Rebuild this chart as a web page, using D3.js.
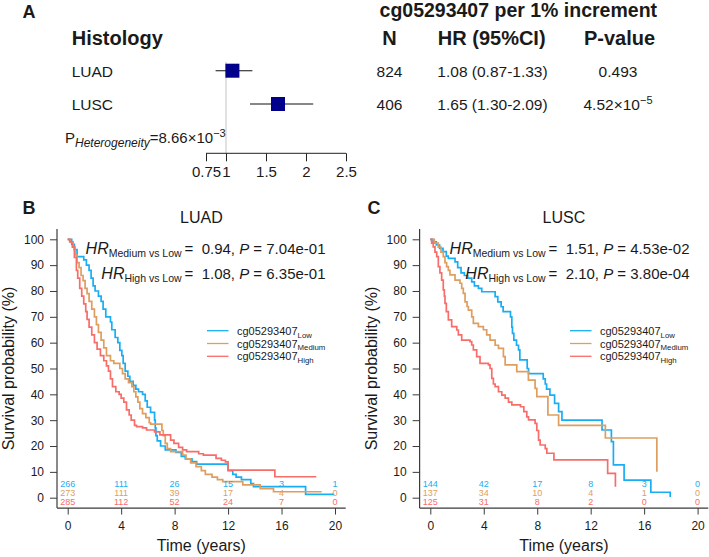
<!DOCTYPE html>
<html><head><meta charset="utf-8">
<script src="https://cdn.jsdelivr.net/npm/d3@7"></script>
<style>
html,body{margin:0;padding:0;background:#fff;}
svg{display:block;font-family:"Liberation Sans",Arial,sans-serif;}
text{white-space:pre;}
</style></head><body>
<svg id="chart" width="709" height="557"></svg>
<script>
// ---------- Panel A: forest plot data ----------
const forestGroups = ["LUAD", "LUSC"];
const forestN = [824, 406];
const forestHR = [1.08, 1.65];
const forestLo = [0.87, 1.30];
const forestHi = [1.33, 2.09];
const forestHRText = ["1.08 (0.87-1.33)", "1.65 (1.30-2.09)"];
const forestPMant = ["0.493", "4.52×10"];
const forestPExp = ["", "−5"];
const forestTicks = [0.75, 1, 1.5, 2, 2.5];
const forestTickLabels = ["0.75", "1", "1.5", "2", "2.5"];
const pHetMant = "=8.66×10";
const pHetExp = "−3";

// ---------- Panels B/C: Kaplan-Meier data [time (years), survival %] ----------
const groupNames = ["Low", "Medium", "High"];
const groupColors = ["#19AEF3", "#DE9E60", "#F76D6A"];

const luadLow = [[0,100],[0.3,98],[0.5,96],[0.7,93.3],[1.2,92],[1.4,90],[1.6,88],[1.75,85],[1.9,82],[2.05,80],[2.3,78],[2.5,76],[2.65,73],[2.85,70],[3.2,68],[3.3,65],[3.55,62],[3.75,60],[3.9,57],[4.05,55],[4.15,52],[4.3,49],[4.5,47],[4.65,45],[4.9,43.5],[5.1,42],[5.3,41],[5.6,40],[5.8,37.5],[5.95,35],[6.2,33],[6.5,30],[6.55,27],[6.6,24],[6.7,22],[6.95,20],[7.3,18.5],[8.1,17.5],[8.5,16],[8.8,15],[9.3,14],[9.65,13],[12.0,10.5],[12.35,9],[12.6,8],[13.0,7],[13.7,5.5],[13.9,4.3],[17.8,1.3],[19.95,1.3]];
const luadMedium = [[0,100],[0.2,99],[0.4,97],[0.55,94],[0.7,91],[0.85,89],[1.0,86],[1.15,84],[1.3,81],[1.45,79],[1.6,76],[1.8,73],[2.0,70],[2.15,67],[2.3,64],[2.5,61],[2.7,58],[2.9,55],[3.2,53],[3.45,52],[3.9,50],[4.1,48],[4.3,46],[4.55,44.5],[4.8,43],[4.95,41],[5.1,39],[5.25,37],[5.4,34.5],[5.6,32.5],[5.85,31],[6.1,29],[6.2,28.5],[7.05,26],[7.15,24],[7.3,21],[7.45,19],[7.7,17.8],[8.6,16.5],[8.85,15],[9.2,13.5],[9.6,12],[10.0,10.5],[10.3,9],[10.8,8],[11.2,7],[11.6,6.2],[13.1,5],[14.4,3.5],[15.4,2.3],[19.0,2.3]];
const luadHigh = [[0,100],[0.15,99],[0.35,97],[0.5,93],[0.65,88],[0.75,85],[0.9,81],[1.05,78],[1.2,75],[1.35,72],[1.45,69],[1.6,66],[1.8,63],[2.0,60],[2.2,57.5],[2.45,55],[2.7,53],[2.9,51],[3.05,49],[3.2,46],[3.35,43],[3.6,41],[3.85,40],[4.0,38.5],[4.2,37],[4.4,34],[4.6,32],[4.75,30],[5.0,28],[5.15,27.5],[5.6,27],[5.9,26.2],[6.5,25.5],[6.9,24.3],[7.7,22.3],[7.95,21],[8.3,19.5],[8.6,18.5],[8.9,17.8],[9.8,17],[10.15,16.5],[11.1,15.2],[11.5,14.5],[11.8,13.9],[12.0,10.7],[15.5,8.1],[18.6,8.1]];

const luscLow = [[0,100],[0.2,99],[0.45,97.8],[0.7,96.5],[0.95,95.2],[1.2,93.5],[1.35,92.6],[1.85,91.3],[2.05,89],[2.3,87],[2.55,86],[2.8,85],[3.1,83.5],[3.3,82],[3.6,81],[3.85,79.7],[4.85,77.8],[5.05,75.8],[5.3,73.9],[5.45,72],[6.0,70],[6.1,66],[6.15,63.6],[6.25,61],[6.45,59],[6.6,57.2],[6.7,53.3],[7.25,50],[7.35,48],[8.45,46],[8.6,44],[8.7,42],[8.95,39.7],[9.3,36.5],[9.6,33.3],[9.85,30],[12.85,26.2],[13.55,21.7],[13.7,12.7],[14.5,6.8],[16.5,2.1],[17.95,0.3]];
const luscMedium = [[0,100],[0.3,98.5],[0.6,97],[0.8,95],[0.97,93.3],[1.1,91],[1.22,89.4],[1.35,88],[1.47,86.2],[1.85,84.2],[2.22,83],[2.35,81],[2.47,79.1],[2.6,75.8],[2.75,74],[2.85,72.6],[3.1,70],[3.22,67.5],[3.6,66.2],[3.97,65],[4.22,63],[4.47,61],[4.85,59],[5.1,57.8],[5.47,54.6],[5.6,51.4],[6.47,48.8],[7.34,45.5],[7.84,42.3],[7.97,39.1],[8.8,32],[9.6,28],[13.1,23.1],[16.95,10]];
const luscHigh = [[0,100],[0.1,98.5],[0.22,97.1],[0.35,95],[0.48,93.3],[0.6,89.4],[0.72,87],[0.85,84.2],[0.97,80.4],[1.05,78],[1.1,75.2],[1.2,72],[1.35,68.8],[1.6,66.2],[1.98,64.9],[2.1,63],[2.35,61],[2.97,60.4],[3.1,59.1],[3.22,57.2],[3.47,54.6],[3.72,52],[4.35,51.4],[4.47,50],[4.6,46.2],[4.72,44],[4.85,43],[5.1,41],[5.35,39.7],[5.6,38.5],[5.85,37],[6.1,35.9],[6.75,35.2],[7.0,33.3],[7.22,31.3],[7.35,30.1],[7.84,28.8],[7.97,26],[8.1,22.3],[8.22,20.4],[8.6,19],[8.72,17.2],[9.25,14.6],[13.27,9.4],[13.85,4.2]];

const riskTimes = [0, 4, 8, 12, 16, 20];
const luadRiskLow = [266, 111, 26, 15, 3, 1];
const luadRiskMedium = [273, 111, 39, 17, 4, 0];
const luadRiskHigh = [285, 112, 52, 24, 7, 0];
const luscRiskLow = [144, 42, 17, 8, 3, 0];
const luscRiskMedium = [137, 34, 10, 4, 1, 0];
const luscRiskHigh = [125, 31, 8, 2, 0, 0];

const yTicks = [0, 10, 20, 30, 40, 50, 60, 70, 80, 90, 100];
const xTicks = [0, 4, 8, 12, 16, 20];

const luadHRMed = "0.94", luadPMed = "7.04e-01", luadHRHigh = "1.08", luadPHigh = "6.35e-01";
const luscHRMed = "1.51", luscPMed = "4.53e-02", luscHRHigh = "2.10", luscPHigh = "3.80e-04";
const probeName = "cg05293407";

// ---------- drawing ----------
const svg = d3.select("#chart");
const TXT = "#1a1a1a", AX = "#3a3a3a";

// Panel letters
[["A", 22.5, 17.5], ["B", 22.5, 213.5], ["C", 367.5, 213.5]].forEach(([t, x, y]) =>
  svg.append("text").attr("x", x).attr("y", y).attr("font-size", 18).attr("font-weight", "bold").attr("fill", TXT).text(t));

// ---- Panel A ----
const fx = d3.scaleLinear().domain([1, 2]).range([226, 306]);
const rowY = d3.scalePoint().domain(forestGroups).range([70.7, 104]);

svg.append("text").attr("x", 518.3).attr("y", 16.5).attr("text-anchor", "middle")
  .attr("font-size", 19.5).attr("font-weight", "bold").attr("fill", TXT).text(probeName + " per 1% increment");
svg.append("text").attr("x", 71.7).attr("y", 45).attr("font-size", 20).attr("font-weight", "bold").attr("fill", TXT).text("Histology");
[["N", 389.5], ["HR (95%CI)", 491.7], ["P-value", 619.5]].forEach(([t, x]) =>
  svg.append("text").attr("x", x).attr("y", 45).attr("text-anchor", "middle").attr("font-size", 20).attr("font-weight", "bold").attr("fill", TXT).text(t));

// reference line at HR = 1
svg.append("line").attr("x1", fx(1)).attr("x2", fx(1)).attr("y1", 62).attr("y2", 153.3).attr("stroke", "#c4c4c4").attr("stroke-width", 1);

forestGroups.forEach((g, i) => {
  const cy = rowY(g);
  svg.append("text").attr("x", 71.7).attr("y", cy + 6).attr("font-size", 15.5).attr("fill", TXT).text(g);
  svg.append("line").attr("x1", fx(forestLo[i])).attr("x2", fx(forestHi[i])).attr("y1", cy).attr("y2", cy).attr("stroke", "#111").attr("stroke-width", 1.1);
  svg.append("rect").attr("x", fx(forestHR[i]) - 7).attr("y", cy - 7).attr("width", 14).attr("height", 14).attr("fill", "#00008B");
  svg.append("text").attr("x", 389.5).attr("y", cy + 6).attr("text-anchor", "middle").attr("font-size", 15.5).attr("fill", TXT).text(forestN[i]);
  svg.append("text").attr("x", 492.5).attr("y", cy + 6).attr("text-anchor", "middle").attr("font-size", 15.5).attr("fill", TXT).text(forestHRText[i]);
  const pt = svg.append("text").attr("x", 618).attr("y", cy + 6).attr("text-anchor", "middle").attr("font-size", 15.5).attr("fill", TXT);
  pt.append("tspan").text(forestPMant[i]);
  if (forestPExp[i]) pt.append("tspan").attr("font-size", 11).attr("dy", -6).text(forestPExp[i]);
});

// P heterogeneity
const ph = svg.append("text").attr("x", 65).attr("y", 142.7).attr("font-size", 15).attr("fill", TXT);
ph.append("tspan").text("P");
ph.append("tspan").attr("font-size", 12).attr("font-style", "italic").attr("dy", 4).text("Heterogeneity");
ph.append("tspan").attr("dy", -4).text(pHetMant);
ph.append("tspan").attr("font-size", 11).attr("dy", -6).text(pHetExp);

// forest axis
const fAxis = svg.append("g").attr("transform", "translate(0,153.3)")
  .call(d3.axisBottom(fx).tickValues(forestTicks).tickFormat((d, i) => forestTickLabels[i]).tickSize(8).tickPadding(5).tickSizeOuter(0));
fAxis.select(".domain").remove();
fAxis.append("line").attr("x1", fx(0.75)).attr("x2", fx(2.5)).attr("stroke", "#222");
fAxis.selectAll(".tick line").attr("stroke", "#222");
fAxis.selectAll(".tick text").attr("font-size", 15).attr("fill", TXT).attr("font-family", "Liberation Sans, Arial, sans-serif");

// ---- KM panels ----
function drawKM(opt) {
  const x = d3.scaleLinear().domain([0, 20]).range([opt.x0, opt.x0 + 267.3]);
  const y = d3.scaleLinear().domain([0, 100]).range([497.7, 239.3]);
  const g = svg.append("g");
  const axL = x(-0.8), axB = y(-4);

  // axes (L-shaped box)
  const yAx = g.append("g").attr("transform", `translate(${axL},0)`)
    .call(d3.axisLeft(y).tickValues(yTicks).tickSize(7).tickPadding(6));
  const xAx = g.append("g").attr("transform", `translate(0,${axB})`)
    .call(d3.axisBottom(x).tickValues(xTicks).tickSize(6.5).tickPadding(7));
  [yAx, xAx].forEach(a => {
    a.select(".domain").remove();
    a.selectAll(".tick line").attr("stroke", AX);
    a.selectAll(".tick text").attr("font-size", 12).attr("fill", TXT).attr("font-family", "Liberation Sans, Arial, sans-serif");
  });
  g.append("line").attr("x1", axL).attr("x2", axL).attr("y1", y(104)).attr("y2", axB).attr("stroke", AX).attr("stroke-width", 1.2);
  g.append("line").attr("x1", axL).attr("x2", x(20.8)).attr("y1", axB).attr("y2", axB).attr("stroke", AX).attr("stroke-width", 1.2);

  // labels
  g.append("text").attr("x", x(10)).attr("y", 223.3).attr("text-anchor", "middle").attr("font-size", 16).attr("fill", TXT).text(opt.title);
  g.append("text").attr("x", x(10)).attr("y", 551).attr("text-anchor", "middle").attr("font-size", 16).attr("fill", TXT).text("Time (years)");
  g.append("text").attr("transform", `translate(${opt.ylabX},${y(50)}) rotate(-90)`).attr("text-anchor", "middle")
    .attr("font-size", 16).attr("fill", TXT).text("Survival probability (%)");

  // curves
  const line = d3.line().x(d => x(d[0])).y(d => y(d[1])).curve(d3.curveStepAfter);
  opt.curves.forEach((c, i) => {
    g.append("path").attr("d", line(c)).attr("fill", "none").attr("stroke", groupColors[i]).attr("stroke-width", 1.7);
  });

  // numbers at risk
  const riskY = [487.3, 496.3, 505.3];
  opt.risk.forEach((r, i) => {
    r.forEach((n, j) => {
      g.append("text").attr("x", x(riskTimes[j])).attr("y", riskY[i]).attr("text-anchor", "middle")
        .attr("font-size", 9).attr("fill", groupColors[i]).text(n);
    });
  });

  // legend
  const legY = [330.7, 343.5, 356.3];
  groupNames.forEach((nm, i) => {
    g.append("line").attr("x1", opt.legX).attr("x2", opt.legX + 21.5).attr("y1", legY[i]).attr("y2", legY[i])
      .attr("stroke", groupColors[i]).attr("stroke-width", 1.3);
    const t = g.append("text").attr("x", opt.legX + 30).attr("y", legY[i] + 4).attr("font-size", 11).attr("fill", TXT);
    t.append("tspan").text(probeName);
    t.append("tspan").attr("font-size", 7.8).attr("dy", 2.8).text(nm);
  });

  // HR annotations
  const hrY = [253.5, 278.5];
  opt.hr.forEach(([lab, hr, p], i) => {
    const t = g.append("text").attr("x", opt.hrX).attr("y", hrY[i]).attr("text-anchor", "end").attr("font-size", 15).attr("fill", TXT);
    t.append("tspan").attr("font-style", "italic").attr("font-size", 16).text("HR");
    t.append("tspan").attr("font-size", 10.5).attr("dy", 3).text(lab + " ");
    t.append("tspan").attr("dy", -3).text("=  " + hr + ", ");
    t.append("tspan").attr("font-style", "italic").text("P");
    t.append("tspan").text(" = " + p);
  });
}

drawKM({
  title: "LUAD", x0: 67.7, ylabX: 13.5, legX: 207, hrX: 325.5,
  curves: [luadLow, luadMedium, luadHigh],
  risk: [luadRiskLow, luadRiskMedium, luadRiskHigh],
  hr: [["Medium vs Low", luadHRMed, luadPMed], ["High vs Low", luadHRHigh, luadPHigh]]
});
drawKM({
  title: "LUSC", x0: 430.3, ylabX: 376.5, legX: 570, hrX: 689.5,
  curves: [luscLow, luscMedium, luscHigh],
  risk: [luscRiskLow, luscRiskMedium, luscRiskHigh],
  hr: [["Medium vs Low", luscHRMed, luscPMed], ["High vs Low", luscHRHigh, luscPHigh]]
});
</script>
</body></html>
